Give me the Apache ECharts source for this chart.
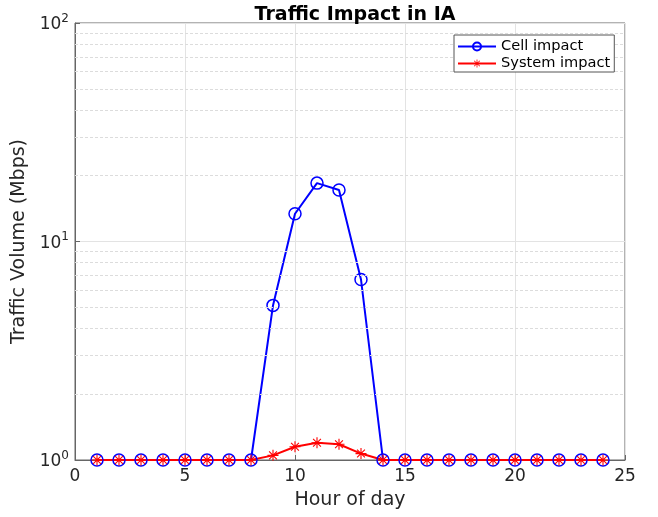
<!DOCTYPE html>
<html>
<head>
<meta charset="utf-8">
<script src="https://cdn.jsdelivr.net/npm/echarts@6/dist/echarts.min.js"></script>
<style>
  html, body { margin: 0; padding: 0; background: #fff; }
  #chart { width: 658px; height: 517px; }
</style>
</head>
<body>
<div id="chart"></div>
<script>
// 小时（横轴）
var HOURS = [1, 2, 3, 4, 5, 6, 7, 8, 9, 10, 11, 12, 13, 14, 15, 16, 17, 18, 19, 20, 21, 22, 23, 24];
// 小区影响
var CELL = [1, 1, 1, 1, 1, 1, 1, 1, 5.1, 13.4, 18.5, 17.2, 6.7, 1, 1, 1, 1, 1, 1, 1, 1, 1, 1, 1];
// 系统影响
var SYSTEM = [1, 1, 1, 1, 1, 1, 1, 1, 1.05, 1.15, 1.2, 1.18, 1.07, 1, 1, 1, 1, 1, 1, 1, 1, 1, 1, 1];
// 对数轴次网格
var MINOR_Y = [2, 3, 4, 5, 6, 7, 8, 9, 20, 30, 40, 50, 60, 70, 80, 90];

var FONT = 'DejaVu Sans';
var ASTERISK = 'path://M9,0L11,0L11,20L9,20Z M0,9L20,9L20,11L0,11Z M2.2,3.6L3.6,2.2L17.8,16.4L16.4,17.8Z M16.4,2.2L17.8,3.6L3.6,17.8L2.2,16.4Z';

function pairs(ys) {
  return HOURS.map(function (h, i) { return [h, ys[i]]; });
}

var chart = echarts.init(document.getElementById('chart'));
chart.setOption({
  animation: false,
  textStyle: { fontFamily: FONT },
  title: {
    text: 'Traffic Impact in IA',
    left: 350,
    textAlign: 'center',
    top: 1,
    textStyle: { fontFamily: FONT, fontWeight: 'bold', fontSize: 19, color: '#000' }
  },
  legend: {
    orient: 'vertical',
    left: 454,
    top: 35,
    z: 20,
    itemWidth: 38,
    itemHeight: 10,
    itemGap: 2,
    padding: [4, 4, 1, 3],
    borderColor: '#555',
    borderWidth: 1,
    backgroundColor: '#fff',
    textStyle: { fontFamily: FONT, fontSize: 14.6, color: '#000' },
    data: ['Cell impact', 'System impact']
  },
  grid: { left: 75, right: 33, top: 23, bottom: 57, show: true, borderColor: '#666', borderWidth: 1 },
  xAxis: {
    type: 'value',
    min: 0,
    max: 25,
    interval: 5,
    name: 'Hour of day',
    nameLocation: 'middle',
    nameGap: 31,
    nameTextStyle: { fontFamily: FONT, fontSize: 19, color: '#262626' },
    axisLine: { lineStyle: { color: '#666' } },
    axisTick: { inside: true, length: 5, lineStyle: { color: '#666' } },
    axisLabel: { fontFamily: FONT, fontSize: 17, color: '#262626', margin: 8 },
    splitLine: { show: true, lineStyle: { color: '#e3e3e3' } }
  },
  yAxis: {
    type: 'log',
    logBase: 10,
    min: 1,
    max: 100,
    name: 'Traffic Volume (Mbps)',
    nameLocation: 'middle',
    nameGap: 41,
    nameTextStyle: { fontFamily: FONT, fontSize: 19, color: '#262626' },
    axisLine: { lineStyle: { color: '#666' } },
    axisTick: { inside: true, length: 5, lineStyle: { color: '#666' } },
    axisLabel: {
      margin: 6,
      formatter: function (v) {
        return '{b|10}{s|' + Math.round(Math.log10(v)) + '}';
      },
      rich: {
        b: { fontFamily: FONT, fontSize: 17, color: '#262626', verticalAlign: 'bottom' },
        s: { fontFamily: FONT, fontSize: 12, color: '#262626', verticalAlign: 'top', padding: [0, 0, 9, 0] }
      }
    },
    splitLine: { show: true, lineStyle: { color: '#e3e3e3' } }
  },
  series: [
    {
      name: 'grid-minor',
      type: 'line',
      data: [],
      silent: true,
      markLine: {
        silent: true,
        symbol: 'none',
        label: { show: false },
        lineStyle: { color: '#dcdcdc', type: [3, 2], width: 1 },
        data: MINOR_Y.map(function (v) { return { yAxis: v }; })
      }
    },
    {
      name: 'Cell impact',
      type: 'line',
      data: pairs(CELL),
      symbol: 'circle',
      symbolSize: 12,
      showAllSymbol: true,
      lineStyle: { color: '#0000ff', width: 2 },
      itemStyle: { color: 'rgba(0,0,0,0)', borderColor: '#0000ff', borderWidth: 1.5 }
    },
    {
      name: 'System impact',
      type: 'line',
      data: pairs(SYSTEM),
      symbol: ASTERISK,
      symbolSize: 11,
      showAllSymbol: true,
      lineStyle: { color: '#ff0000', width: 2 },
      itemStyle: { color: '#ff0000' }
    }
  ]
});
</script>
</body>
</html>
